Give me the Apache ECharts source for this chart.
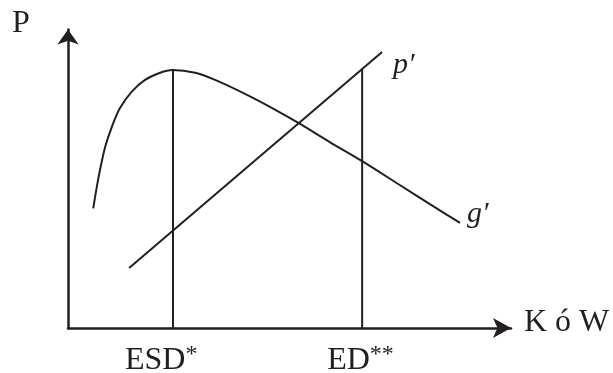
<!DOCTYPE html>
<html>
<head>
<meta charset="utf-8">
<script src="https://cdn.jsdelivr.net/npm/echarts@6/dist/echarts.min.js"></script>
<style>
  html, body { margin: 0; padding: 0; background: #fff; }
  #chart { width: 613px; height: 373px; }
</style>
</head>
<body>
<div id="chart"></div>
<script>
// krzywa g' (punkty, osie 0-100)
var gCurve = [
  [5.7, 40.1], [6.5, 47.3], [7.3, 53.5], [8.4, 60.7], [9.9, 67.4],
  [11.7, 73.6], [14.4, 79.2], [17.4, 83.1], [20.8, 85.5], [23.6, 86.4],
  [28.7, 85.5], [33.2, 83.1], [40.4, 78.1], [46.3, 73.5], [52.1, 68.6],
  [59.1, 62.3], [66.4, 55.9], [74.9, 47.9], [81.7, 41.5], [88.5, 35.2]
];
// prosta p'
var pLine = [[13.8, 20.1], [70.9, 92.5]];
// pionowe linie ESD* i ED**
var esdLine = [[23.7, 0], [23.7, 86.6]];
var edLine = [[66.4, 0], [66.4, 86.8]];
var xLabels = ['ESD{s|*}', 'ED{s|**}'];
var axisNames = ['K ó W', 'P'];
var curveNames = ["g′", "p′"];

var ink = '#231f20';

var chart = echarts.init(document.getElementById('chart'));

function lineSeries(data, smooth) {
  return {
    type: 'line',
    data: data,
    smooth: smooth,
    showSymbol: false,
    silent: true,
    lineStyle: { color: ink, width: 2 }
  };
}

var option = {
  animation: false,
  grid: { left: 68, right: 102, top: 29.5, bottom: 45 },
  xAxis: {
    type: 'value', min: 0, max: 100,
    axisLine: { lineStyle: { color: ink, width: 2.5 }, symbol: ['none', 'arrow'], symbolSize: [15, 18] },
    axisTick: { show: false }, axisLabel: { show: false }, splitLine: { show: false }
  },
  yAxis: {
    type: 'value', min: 0, max: 100,
    axisLine: { show: true, lineStyle: { color: ink, width: 2.5 }, symbol: ['none', 'arrow'], symbolSize: [16, 15] },
    axisTick: { show: false }, axisLabel: { show: false }, splitLine: { show: false }
  },
  series: [
    lineSeries(gCurve, 0.3),
    lineSeries(pLine, false),
    lineSeries(esdLine, false),
    lineSeries(edLine, false)
  ]
};
chart.setOption(option);

// teksty ustawione względem osi
var esdPx = chart.convertToPixel({ gridIndex: 0 }, esdLine[0]);
var edPx = chart.convertToPixel({ gridIndex: 0 }, edLine[0]);
var gEnd = chart.convertToPixel({ gridIndex: 0 }, gCurve[gCurve.length - 1]);
var pEnd = chart.convertToPixel({ gridIndex: 0 }, pLine[1]);

function txt(text, x, y, italic, size) {
  return {
    type: 'text', x: x, y: y, silent: true,
    style: {
      text: text, fill: ink,
      fontFamily: 'Liberation Serif', fontSize: size || 32,
      fontStyle: italic ? 'italic' : 'normal',
      align: 'left', verticalAlign: 'middle',
      rich: {
        s: { fontFamily: 'Liberation Serif', fontSize: 24, fill: ink, verticalAlign: 'top', padding: [0, 0, 12, 0] }
      }
    }
  };
}

chart.setOption({
  graphic: [
    txt(axisNames[1], 12, 24, false),
    txt(axisNames[0], 524, 323, false),
    txt(xLabels[0], esdPx[0] - 48, 361, false),
    txt(xLabels[1], edPx[0] - 35, 361, false),
    txt(curveNames[0], gEnd[0] + 7, gEnd[1] - 9, true, 30),
    txt(curveNames[1], pEnd[0] + 11, pEnd[1] + 13, true, 30)
  ]
});
</script>
</body>
</html>
